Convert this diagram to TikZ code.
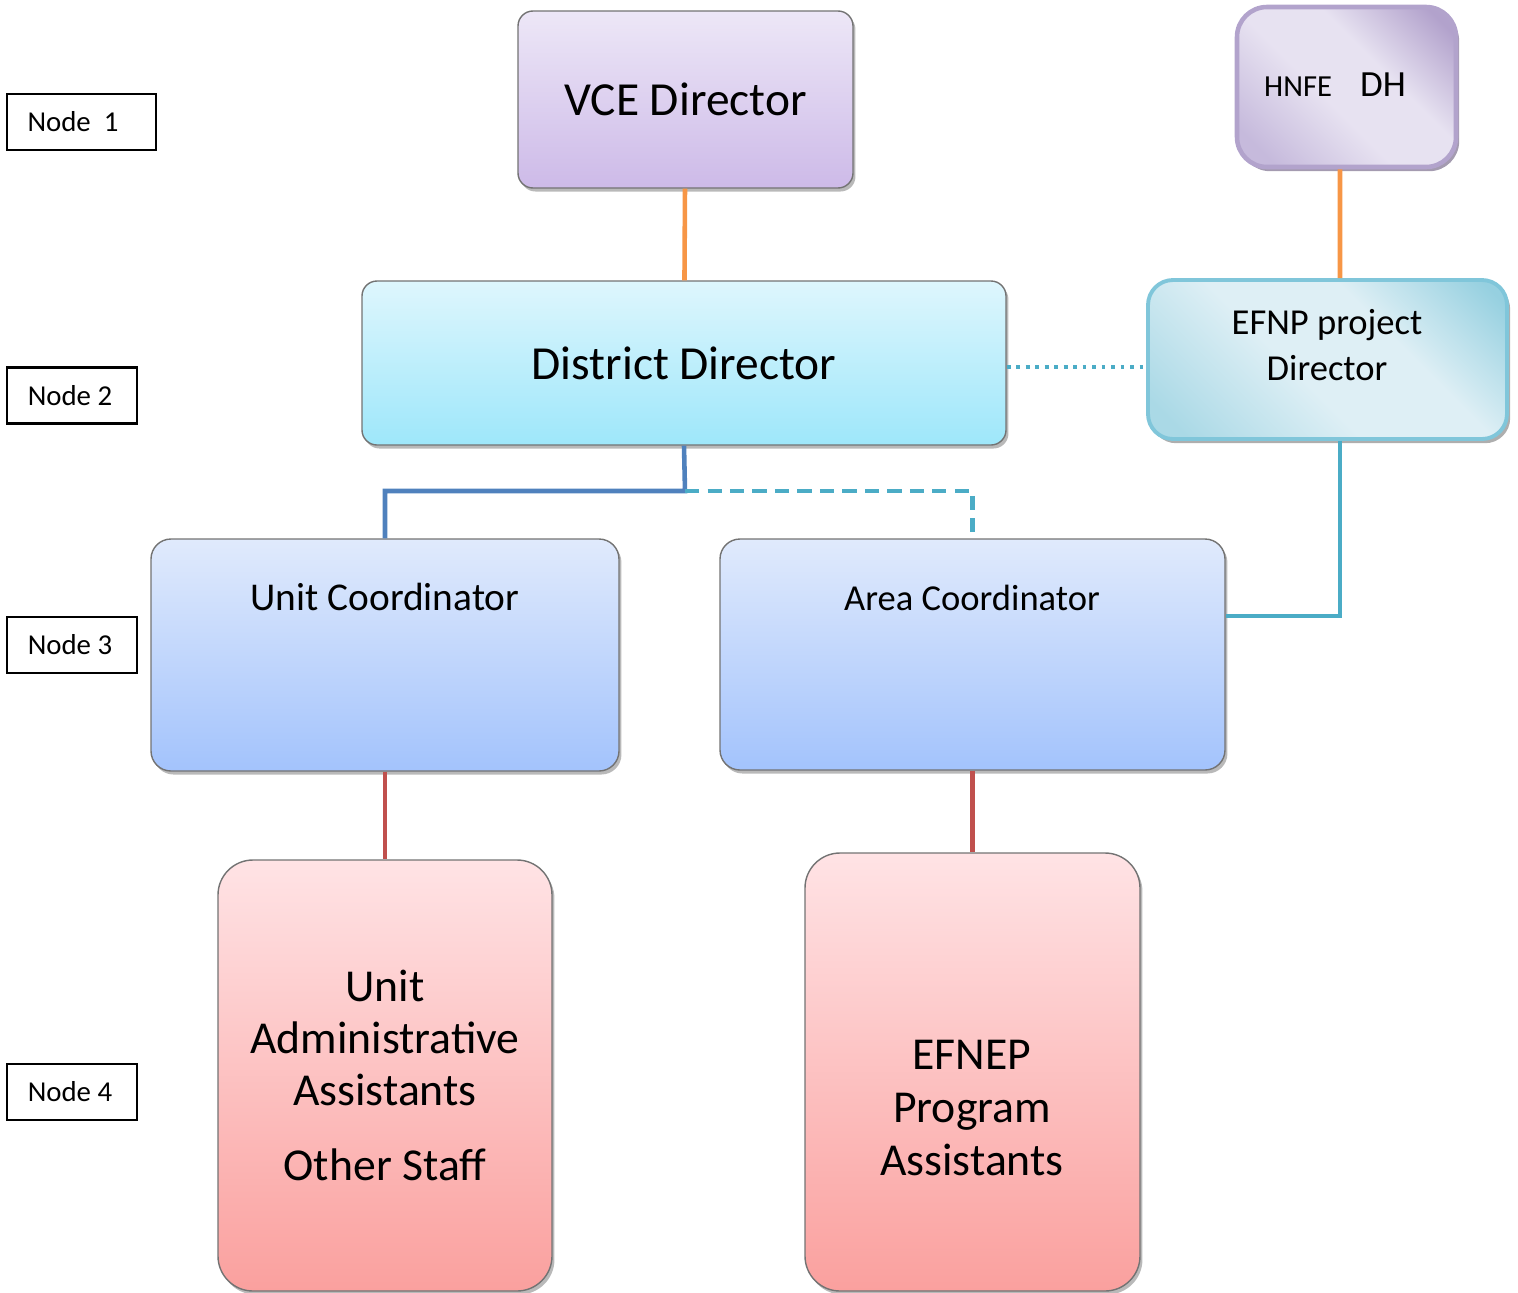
\documentclass[tikz,border=0pt]{standalone}
\usepackage{fontspec}
\setmainfont{Carlito}
\usetikzlibrary{shadows}

\definecolor{vcetop}{RGB}{237,231,247}
\definecolor{vcebot}{RGB}{205,186,232}
\definecolor{ddtop}{RGB}{222,246,253}
\definecolor{ddbot}{RGB}{158,231,250}
\definecolor{cotop}{RGB}{224,234,252}
\definecolor{cobot}{RGB}{163,195,252}
\definecolor{pktop}{RGB}{255,227,229}
\definecolor{pkbot}{RGB}{250,160,158}
\definecolor{hndark}{RGB}{178,162,204}
\definecolor{hnmid}{RGB}{198,186,220}
\definecolor{hnlight}{RGB}{231,226,241}
\definecolor{hnedge}{RGB}{178,163,204}
\definecolor{efdark}{RGB}{150,208,224}
\definecolor{efmid}{RGB}{170,217,230}
\definecolor{eflight}{RGB}{222,239,245}
\definecolor{efedge}{RGB}{128,198,218}
\definecolor{orangeln}{RGB}{247,150,70}
\definecolor{blueln}{RGB}{79,129,189}
\definecolor{cyanln}{RGB}{75,172,198}
\definecolor{redln}{RGB}{192,80,77}

\pgfdeclarehorizontalshading{hnfegloss}{100bp}{color(0bp)=(hnmid); color(22bp)=(hnmid); color(44bp)=(hnlight); color(60bp)=(hnlight); color(80bp)=(hndark); color(100bp)=(hndark)}
\pgfdeclarehorizontalshading{efnpgloss}{100bp}{color(0bp)=(efmid); color(20bp)=(efmid); color(44bp)=(eflight); color(62bp)=(eflight); color(82bp)=(efdark); color(100bp)=(efdark)}

\tikzset{
  levelbox/.style={draw=black, line width=0.6pt, minimum height=0.56cm, inner sep=0pt,
    font=\fontsize{8.2}{10}\selectfont},
  orgbox/.style={draw=black!55, line width=0.4pt, inner sep=0pt, align=center,
    drop shadow={shadow xshift=0.7pt, shadow yshift=-1pt, fill=black!50, opacity=0.55}},
  purplebox/.style={top color=vcetop, bottom color=vcebot, rounded corners=0.15cm},
  cyanbox/.style={top color=ddtop, bottom color=ddbot, rounded corners=0.15cm},
  coordbox/.style={top color=cotop, bottom color=cobot, rounded corners=0.2cm},
  pinkbox/.style={top color=pktop, bottom color=pkbot, rounded corners=0.35cm},
  orangeline/.style={draw=orangeln, line width=1.3pt},
  blueline/.style={draw=blueln, line width=1.3pt},
  cyanline/.style={draw=cyanln, line width=1.3pt},
  redline/.style={draw=redln, line width=1.3pt},
}

\begin{document}
\begin{tikzpicture}
    \useasboundingbox (0,0) rectangle (15.18,-12.93);

    % level labels
    \node[levelbox, minimum width=1.49cm] (n1) at (0.815,-1.22) {Node\ \ 1\hspace*{0.17cm}};
    \node[levelbox, minimum width=1.30cm] (n2) at (0.72,-3.955) {Node 2\hspace*{0.04cm}};
    \node[levelbox, minimum width=1.30cm] (n3) at (0.72,-6.45) {Node 3\hspace*{0.04cm}};
    \node[levelbox, minimum width=1.30cm] (n4) at (0.72,-10.92) {Node 4\hspace*{0.04cm}};

    % boxes
    \node[orgbox, purplebox, minimum width=3.35cm, minimum height=1.77cm,
      font=\fontsize{13.5}{16}\selectfont] (vce) at (6.855,-0.995) {VCE Director};
    \node[draw=hnedge, line width=1.3pt, rounded corners=0.3cm, shading=hnfegloss, shading angle=45,
      minimum width=2.19cm, minimum height=1.60cm,
      drop shadow={shadow xshift=0.9pt, shadow yshift=-1.2pt, fill=hndark!70!black, opacity=0.7}] (hnfe) at (13.465,-0.87) {};
    \node[orgbox, cyanbox, minimum width=6.44cm, minimum height=1.64cm,
      font=\fontsize{13.5}{16}\selectfont] (dd) at (6.84,-3.63) {District Director};
    \node[draw=efedge, line width=1.1pt, rounded corners=0.25cm, shading=efnpgloss, shading angle=45,
      minimum width=3.59cm, minimum height=1.59cm,
      drop shadow={shadow xshift=0.9pt, shadow yshift=-1.2pt, fill=black!45, opacity=0.7}] (efnp) at (13.275,-3.595) {};
    \node[orgbox, coordbox, minimum width=4.68cm, minimum height=2.32cm] (uc) at (3.85,-6.55) {};
    \node[orgbox, coordbox, minimum width=5.05cm, minimum height=2.31cm] (ac) at (9.725,-6.545) {};
    \node[orgbox, pinkbox, minimum width=3.34cm, minimum height=4.31cm,
      font=\fontsize{13}{14.8}\selectfont] (ua) at (3.85,-10.755)
      {Unit\\Administrative\\Assistants\\[6.5pt]Other Staff};
    \node[orgbox, pinkbox, minimum width=3.35cm, minimum height=4.38cm] (ep) at (9.725,-10.72) {};

    % box texts
    \node (hnfetxt) at (13.35,-0.85) {{\fontsize{8.7}{10}\selectfont HNFE}\hspace{8pt}{\fontsize{10.5}{12}\selectfont DH}};
    \node[align=center, font=\fontsize{10.4}{13}\selectfont] (efnptxt) at (13.27,-3.45) {EFNP project\\Director};
    \node[font=\fontsize{11.2}{13}\selectfont] (uctxt) at (3.85,-5.97) {Unit Coordinator};
    \node[font=\fontsize{10.4}{13}\selectfont] (actxt) at (9.72,-5.98) {Area Coordinator};
    \node[align=center, font=\fontsize{13}{15}\selectfont] (eptxt) at (9.72,-11.08) {EFNEP\\Program\\Assistants};

    \coordinate (split) at (6.85,-4.91);

    % connectors
    \draw[orangeline] (vce) -- (dd);
    \draw[orangeline] ([xshift=-0.65mm]hnfe.south) -- ([xshift=1.25mm]efnp.north);
    \draw[cyanline, dash pattern=on 1.1pt off 1.6pt] ([yshift=-0.4mm]dd.east) -- ([yshift=-0.4mm]dd.east -| efnp.west);
    \draw[blueline] (dd.south) -- (split) -| (uc.north);
    \draw[cyanline, dash pattern=on 4pt off 2.4pt] (split) -| (ac.north);
    \draw[cyanline] ([xshift=1.25mm]efnp.south) |- ([yshift=3.85mm]ac.east);
    \draw[redline] (uc) -- (ua);
    \draw[redline] (ac) -- (ep);
\end{tikzpicture}
\end{document}
